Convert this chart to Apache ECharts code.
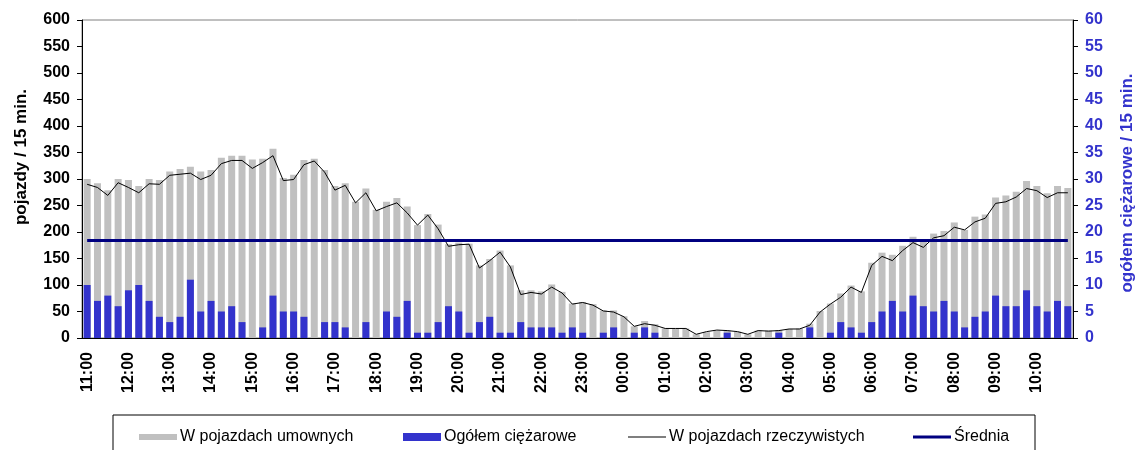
<!DOCTYPE html>
<html>
<head>
<meta charset="utf-8">
<script src="https://cdn.jsdelivr.net/npm/echarts@6/dist/echarts.min.js"></script>
<style>
  html, body { margin: 0; padding: 0; background: #fff; }
  #chart { width: 1144px; height: 450px; }
</style>
</head>
<body>
<div id="chart"></div>
<script>
// full hours shown on the axis, one bar every 15 min
const hours = ['11:00', '12:00', '13:00', '14:00', '15:00', '16:00', '17:00', '18:00',
  '19:00', '20:00', '21:00', '22:00', '23:00', '00:00', '01:00', '02:00', '03:00',
  '04:00', '05:00', '06:00', '07:00', '08:00', '09:00', '10:00'];
const quarters = ['00', '15', '30', '45'];
const categories = hours.flatMap(h => quarters.map(q => h.slice(0, 3) + q));

// W pojazdach umownych (left axis)
const umowne = [
  300, 292, 279, 300, 298, 287, 300, 298, 314, 319, 323, 314, 317, 340, 344, 344,
  337, 338, 357, 302, 308, 336, 338, 317, 287, 292, 257, 282, 242, 257, 264, 248,
  213, 234, 214, 177, 180, 178, 137, 149, 165, 137, 90, 90, 88, 101, 87, 65,
  68, 64, 52, 52, 41, 22, 32, 26, 18, 18, 18, 7, 11, 14, 14, 12,
  7, 14, 14, 15, 17, 18, 27, 51, 65, 84, 99, 88, 142, 161, 157, 174,
  191, 182, 197, 202, 218, 204, 229, 233, 265, 269, 276, 296, 287, 273, 287, 283
];

// W pojazdach rzeczywistych (left axis)
const rzeczywiste = [
  290, 284, 269, 293, 284, 274, 291, 290, 307, 309, 311, 299, 307, 329, 335, 335,
  320, 331, 344, 297, 299, 327, 334, 313, 279, 288, 255, 274, 240, 248, 255, 236,
  213, 232, 206, 173, 176, 177, 132, 146, 162, 134, 82, 86, 83, 96, 85, 64,
  67, 62, 51, 49, 40, 22, 27, 24, 18, 18, 18, 7, 12, 15, 14, 12,
  7, 14, 13, 14, 17, 17, 24, 49, 64, 77, 96, 86, 137, 154, 146, 165,
  180, 171, 189, 193, 209, 204, 219, 226, 254, 257, 266, 282, 278, 265, 274, 274
];

// Ogółem ciężarowe (right axis)
const ciezarowe = [
  10, 7, 8, 6, 9, 10, 7, 4, 3, 4, 11, 5, 7, 5, 6, 3,
  0, 2, 8, 5, 5, 4, 0, 3, 3, 2, 0, 3, 0, 5, 4, 7,
  1, 1, 3, 6, 5, 1, 3, 4, 1, 1, 3, 2, 2, 2, 1, 2,
  1, 0, 1, 2, 0, 1, 2, 1, 0, 0, 0, 0, 0, 0, 1, 0,
  0, 0, 0, 1, 0, 0, 2, 0, 1, 3, 2, 1, 3, 5, 7, 5,
  8, 6, 5, 7, 5, 2, 4, 5, 8, 6, 6, 9, 6, 5, 7, 6
];

const srednia = 184;

const leftTicks = { min: 0, max: 600, interval: 50 };
const rightTicks = { min: 0, max: 60, interval: 5 };

const font = "'Liberation Sans', Arial, sans-serif";
const blue = '#3333CC';

const chart = echarts.init(document.getElementById('chart'), null, { renderer: 'canvas' });

const legendBase = (name, left, h) => ({
  data: [{ name: name, icon: 'rect' }],
  left: left,
  top: 429,
  padding: 0,
  itemWidth: 38,
  itemHeight: h,
  itemGap: 0,
  selectedMode: false,
  textStyle: { fontFamily: font, fontSize: 16, color: '#000', padding: [0, 0, 0, -2] }
});

chart.setOption({
  animation: false,
  grid: {
    left: 82, right: 69, top: 20, bottom: 112,
    show: true, borderColor: '#808080', borderWidth: 1
  },
  legend: [
    legendBase('W pojazdach umownych', 139, 6),
    legendBase('Ogółem ciężarowe', 403, 8),
    legendBase('W pojazdach rzeczywistych', 628, 1),
    legendBase('Średnia', 913, 3)
  ],
  graphic: [{
    type: 'rect',
    shape: { x: 113, y: 415, width: 922, height: 60 },
    style: { fill: 'none', stroke: '#000', lineWidth: 1 }
  }],
  xAxis: {
    type: 'category',
    data: categories,
    boundaryGap: true,
    axisLine: { lineStyle: { color: '#000', width: 1 } },
    axisTick: { interval: 0, length: 5, lineStyle: { color: '#000' } },
    axisLabel: {
      interval: 3, rotate: 90, margin: 14,
      fontFamily: font, fontSize: 16, fontWeight: 'bold', color: '#000'
    },
    splitLine: { show: false }
  },
  yAxis: [{
    type: 'value',
    ...leftTicks,
    name: 'pojazdy / 15 min.',
    nameLocation: 'middle',
    nameGap: 52,
    nameRotate: 90,
    nameTextStyle: { fontFamily: font, fontSize: 17, fontWeight: 'bold', color: '#000', padding: [0, 0, 0, 44] },
    axisLine: { show: true, lineStyle: { color: '#000' } },
    axisTick: { show: true, length: 5, lineStyle: { color: '#000' } },
    axisLabel: { margin: 12, fontFamily: font, fontSize: 16, fontWeight: 'bold', color: '#000' },
    splitLine: { show: false }
  }, {
    type: 'value',
    ...rightTicks,
    position: 'right',
    name: 'ogółem ciężarowe / 15 min.',
    nameLocation: 'middle',
    nameGap: 46,
    nameRotate: 90,
    nameTextStyle: { fontFamily: font, fontSize: 17, fontWeight: 'bold', color: blue, padding: [0, 8, 0, 0] },
    axisLine: { show: true, lineStyle: { color: '#000' } },
    axisTick: { show: true, length: 5, lineStyle: { color: '#000' } },
    axisLabel: { margin: 12, fontFamily: font, fontSize: 16, fontWeight: 'bold', color: blue },
    splitLine: { show: false }
  }],
  series: [{
    name: 'W pojazdach umownych',
    type: 'bar',
    data: umowne,
    yAxisIndex: 0,
    barWidth: 7,
    barGap: '-100%',
    itemStyle: { color: '#C0C0C0' }
  }, {
    name: 'Ogółem ciężarowe',
    type: 'bar',
    data: ciezarowe,
    yAxisIndex: 1,
    barWidth: 7,
    barGap: '-100%',
    itemStyle: { color: blue }
  }, {
    name: 'W pojazdach rzeczywistych',
    type: 'line',
    data: rzeczywiste,
    yAxisIndex: 0,
    symbol: 'none',
    lineStyle: { color: '#000', width: 1 },
    itemStyle: { color: '#000' },
    z: 3
  }, {
    name: 'Średnia',
    type: 'line',
    data: [[categories[0], srednia], [categories[categories.length - 1], srednia]],
    yAxisIndex: 0,
    symbol: 'none',
    lineStyle: { color: '#000080', width: 3 },
    itemStyle: { color: '#000080' },
    z: 4
  }]
});
</script>
</body>
</html>
